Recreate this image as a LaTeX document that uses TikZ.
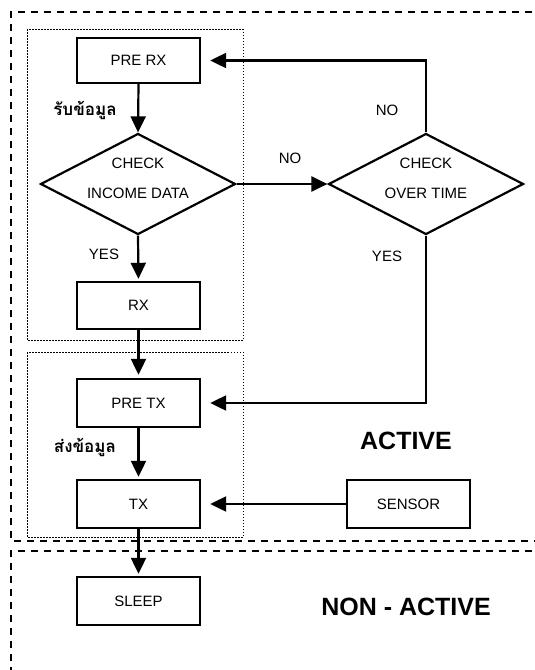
\documentclass[tikz,border=0pt]{standalone}
\usepackage{fontspec}
\setmainfont{Liberation Sans}
\newfontfamily\thaifont[Script=Thai]{Loma}
\usetikzlibrary{shapes.geometric,arrows.meta}
\tikzset{
  box/.style={draw, line width=2.4pt, rectangle, minimum width=123pt, minimum height=47pt, inner sep=0pt, font=\fontsize{15}{18}\selectfont},
  dia/.style={draw, line width=2.2pt, diamond, aspect=1.93, inner sep=0pt, minimum width=195pt, minimum height=101pt},
  dtxt/.style={align=center, inner sep=0pt, font=\fontsize{15}{30}\selectfont},
  lbl/.style={inner sep=0pt, font=\fontsize{15}{18}\selectfont},
  thai/.style={inner sep=0pt, font=\thaifont\bfseries\fontsize{17}{20}\selectfont},
  big/.style={inner sep=0pt, font=\bfseries\fontsize{25}{30}\selectfont},
  arr/.style={line width=2.2pt, -{Triangle[length=16pt,width=15pt]}},
  zone/.style={line width=2pt, dash pattern=on 7pt off 6pt},
  group/.style={line width=0.9pt, dash pattern=on 1.5pt off 1.5pt},
}
\begin{document}
\begin{tikzpicture}[x=1pt,y=-1pt]
\useasboundingbox (0,0) rectangle (535,670);
\fill[white] (0,0) rectangle (535,670);
% zones
\draw[zone] (545,12) -- (11,12) -- (11,541) -- (545,541);
\draw[zone] (545,551) -- (11,551) -- (11,680);
% groups
\draw[group] (27,29) rectangle (243,340);
\draw[group] (27,352) rectangle (243,537);
% nodes
\node[box, minimum height=45pt] (prerx) at (138.5,60.5) {PRE RX};
\node[dia] (chk1) at (138,184) {};
\node[dtxt] (chk1t) at ([yshift=6pt]chk1.center) {CHECK\\INCOME DATA};
\node[dia] (chk2) at (426,184) {};
\node[dtxt] (chk2t) at ([yshift=6pt]chk2.center) {CHECK\\OVER TIME};
\node[box] (rx) at (138.5,305.5) {RX};
\node[box, minimum height=48pt] (pretx) at (138.5,403) {PRE TX};
\node[box, minimum height=48pt] (tx) at (138.5,504) {TX};
\node[box, minimum height=48pt] (sleep) at (138.5,601) {SLEEP};
\node[box, minimum height=48pt] (sensor) at (408.5,504) {SENSOR};
% labels
\node[thai] (l1) at (85,110) {รับข้อมูล};
\node[thai] (l2) at (85,447) {ส่งข้อมูล};
\node[lbl] (no1) at (290,158) {NO};
\node[lbl] (no2) at (387,110) {NO};
\node[lbl] (yes1) at (104,254) {YES};
\node[lbl] (yes2) at (387,256) {YES};
\node[big] (act) at (406,441) {ACTIVE};
\node[big] (nact) at (406,607) {NON - ACTIVE};
% connectors
\draw[arr] (prerx.south) -- (chk1.north);
\draw[arr] (chk1.east) -- (chk2.west);
\draw[arr, shorten >=9pt] (chk2.north) |- (prerx.east);
\draw[arr, shorten >=2pt] (chk1.south) -- (rx.north);
\draw[arr, shorten >=3pt] (rx.south) -- (pretx.north);
\draw[arr, shorten >=9pt] (chk2.south) |- (pretx.east);
\draw[arr, shorten >=2pt] (pretx.south) -- (tx.north);
\draw[arr, shorten >=9pt] (sensor.west) -- (tx.east);
\draw[arr, shorten >=2pt] (tx.south) -- (sleep.north);
\end{tikzpicture}
\end{document}
